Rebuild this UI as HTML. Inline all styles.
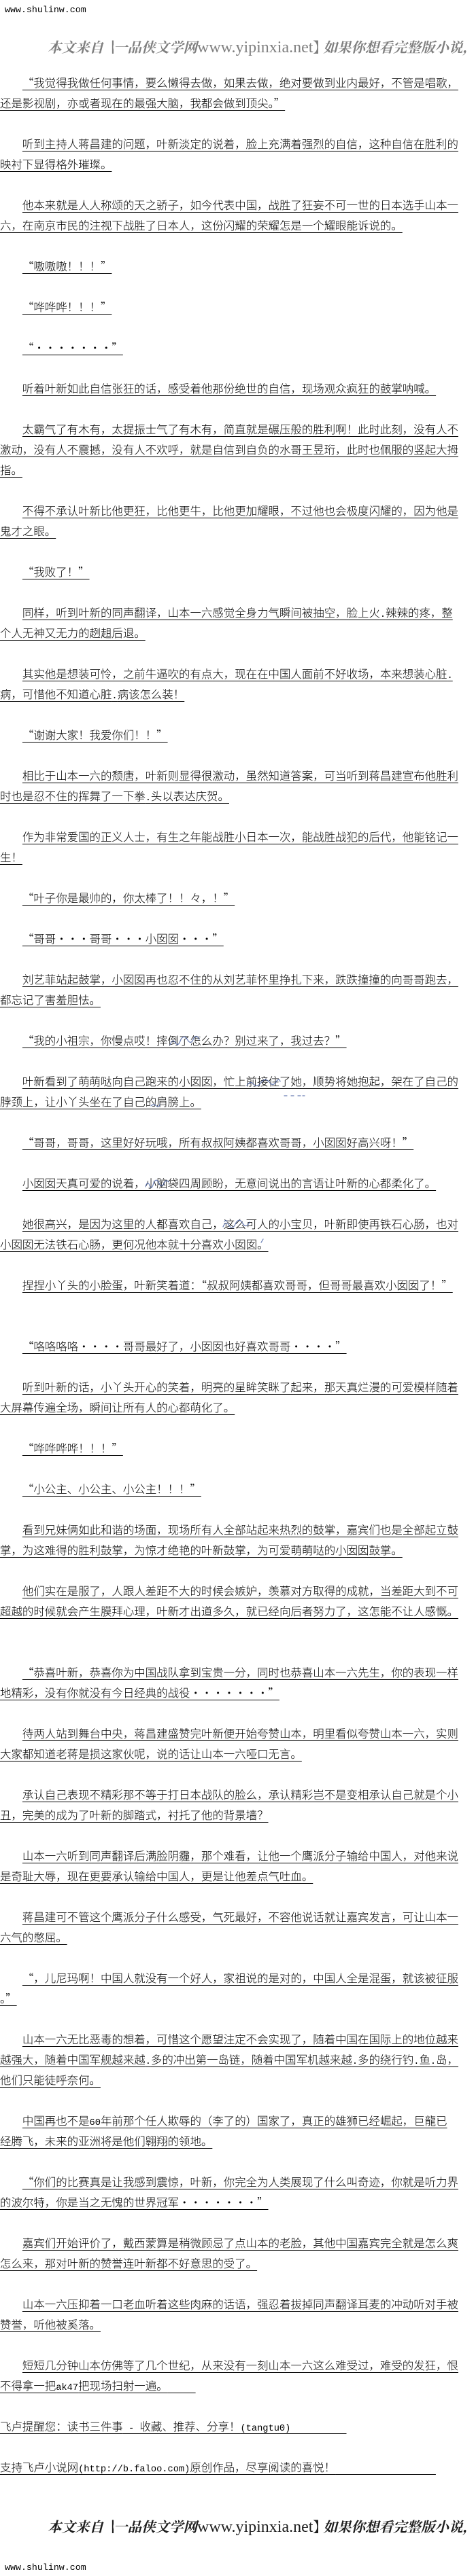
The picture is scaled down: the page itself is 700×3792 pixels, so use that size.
<!DOCTYPE html>
<html lang="zh">
<head>
<meta charset="utf-8">
<style>
html,body{margin:0;padding:0;background:#fff;}
body{width:700px;height:3792px;position:relative;overflow:hidden;}
.l{position:absolute;left:0;height:30px;line-height:30px;font-size:16.45px;white-space:pre;font-family:"Noto Sans CJK SC","WenQuanYi Zen Hei",sans-serif;font-weight:300;color:#000;text-decoration:underline;text-decoration-thickness:1px;text-underline-offset:3.5px;text-decoration-skip-ink:none;}
.i{left:32.9px;}
.m{font-family:"Liberation Mono",monospace;font-size:13.7px;}
.site{position:absolute;left:7px;height:16px;line-height:16px;font-family:"Liberation Mono",monospace;font-size:13.3px;color:#000;white-space:nowrap;}
.wm{position:absolute;left:70px;height:30px;line-height:30px;white-space:nowrap;font-family:"Noto Serif CJK SC","Noto Sans CJK SC",serif;font-weight:700;font-size:20.5px;font-style:italic;}
.wm .s{font-family:"Liberation Serif",serif;font-size:24px;font-style:normal;font-weight:400;}
.wm .b{display:inline-block;width:15px;overflow:hidden;font-style:normal;vertical-align:top;}
.g{color:#7f7f7f;}
.k{color:#1e1e1e;}
svg{position:absolute;left:0;top:0;}
</style>
</head>
<body>
<div class="site" style="top:7px">www.shulinw.com</div>
<div class="wm g" style="top:53px">本文来自<span class="b">【</span>一品侠文学网<span class="s">www.yipinxia.net</span><span class="b">】</span>如果你想看完整版小说，请</div>

<div class="l i" style="top:106px">“我觉得我做任何事情，要么懒得去做，如果去做，绝对要做到业内最好，不管是唱歌，</div>
<div class="l" style="top:136px">还是影视剧，亦或者现在的最强大脑，我都会做到顶尖。”</div>
<div class="l i" style="top:196px">听到主持人蒋昌建的问题，叶新淡定的说着，脸上充满着强烈的自信，这种自信在胜利的</div>
<div class="l" style="top:226px">映衬下显得格外璀璨。</div>
<div class="l i" style="top:286px">他本来就是人人称颂的天之骄子，如今代表中国，战胜了狂妄不可一世的日本选手山本一</div>
<div class="l" style="top:316px">六，在南京市民的注视下战胜了日本人，这份闪耀的荣耀怎是一个耀眼能诉说的。</div>
<div class="l i" style="top:376px">“嗷嗷嗷！！！”</div>
<div class="l i" style="top:436px">“哗哗哗！！！”</div>
<div class="l i" style="top:496px">“・・・・・・・”</div>
<div class="l i" style="top:556px">听着叶新如此自信张狂的话，感受着他那份绝世的自信，现场观众疯狂的鼓掌呐喊。</div>
<div class="l i" style="top:616px">太霸气了有木有，太提振士气了有木有，简直就是碾压般的胜利啊！此时此刻，没有人不</div>
<div class="l" style="top:646px">激动，没有人不震撼，没有人不欢呼，就是自信到自负的水哥王昱珩，此时也佩服的竖起大拇</div>
<div class="l" style="top:676px">指。</div>
<div class="l i" style="top:736px">不得不承认叶新比他更狂，比他更牛，比他更加耀眼，不过他也会极度闪耀的，因为他是</div>
<div class="l" style="top:766px">鬼才之眼。</div>
<div class="l i" style="top:826px">“我败了！”</div>
<div class="l i" style="top:886px">同样，听到叶新的同声翻译，山本一六感觉全身力气瞬间被抽空，脸上火<span class="m">.</span>辣辣的疼，整</div>
<div class="l" style="top:916px">个人无神又无力的趔趄后退。</div>
<div class="l i" style="top:976px">其实他是想装可怜，之前牛逼吹的有点大，现在在中国人面前不好收场，本来想装心脏<span class="m">.</span></div>
<div class="l" style="top:1006px">病，可惜他不知道心脏<span class="m">.</span>病该怎么装！</div>
<div class="l i" style="top:1066px">“谢谢大家！我爱你们！！”</div>
<div class="l i" style="top:1126px">相比于山本一六的颓唐，叶新则显得很激动，虽然知道答案，可当听到蒋昌建宣布他胜利</div>
<div class="l" style="top:1156px">时也是忍不住的挥舞了一下拳<span class="m">.</span>头以表达庆贺。</div>
<div class="l i" style="top:1216px">作为非常爱国的正义人士，有生之年能战胜小日本一次，能战胜战犯的后代，他能铭记一</div>
<div class="l" style="top:1246px">生！</div>
<div class="l i" style="top:1306px">“叶子你是最帅的，你太棒了！！々，！”</div>
<div class="l i" style="top:1366px">“哥哥・・・哥哥・・・小囡囡・・・”</div>
<div class="l i" style="top:1426px">刘艺菲站起鼓掌，小囡囡再也忍不住的从刘艺菲怀里挣扎下来，跌跌撞撞的向哥哥跑去，</div>
<div class="l" style="top:1456px">都忘记了害羞胆怯。</div>
<div class="l i" style="top:1516px">“我的小祖宗，你慢点哎！摔倒了怎么办？别过来了，我过去？”</div>
<div class="l i" style="top:1576px">叶新看到了萌萌哒向自己跑来的小囡囡，忙上前接住了她，顺势将她抱起，架在了自己的</div>
<div class="l" style="top:1606px">脖颈上，让小丫头坐在了自己的肩膀上。</div>
<div class="l i" style="top:1666px">“哥哥，哥哥，这里好好玩哦，所有叔叔阿姨都喜欢哥哥，小囡囡好高兴呀！”</div>
<div class="l i" style="top:1726px">小囡囡天真可爱的说着，小脑袋四周顾盼，无意间说出的言语让叶新的心都柔化了。</div>
<div class="l i" style="top:1786px">她很高兴，是因为这里的人都喜欢自己，这么可人的小宝贝，叶新即使再铁石心肠，也对</div>
<div class="l" style="top:1816px">小囡囡无法铁石心肠，更何况他本就十分喜欢小囡囡。</div>
<div class="l i" style="top:1876px">捏捏小丫头的小脸蛋，叶新笑着道：“叔叔阿姨都喜欢哥哥，但哥哥最喜欢小囡囡了！”</div>
<div class="l i" style="top:1966px">“咯咯咯咯・・・・哥哥最好了，小囡囡也好喜欢哥哥・・・・”</div>
<div class="l i" style="top:2026px">听到叶新的话，小丫头开心的笑着，明亮的星眸笑眯了起来，那天真烂漫的可爱模样随着</div>
<div class="l" style="top:2056px">大屏幕传遍全场，瞬间让所有人的心都萌化了。</div>
<div class="l i" style="top:2116px">“哗哗哗哗！！！”</div>
<div class="l i" style="top:2176px">“小公主、小公主、小公主！！！”</div>
<div class="l i" style="top:2236px">看到兄妹俩如此和谐的场面，现场所有人全部站起来热烈的鼓掌，嘉宾们也是全部起立鼓</div>
<div class="l" style="top:2266px">掌，为这难得的胜利鼓掌，为惊才绝艳的叶新鼓掌，为可爱萌萌哒的小囡囡鼓掌。</div>
<div class="l i" style="top:2326px">他们实在是服了，人跟人差距不大的时候会嫉妒，羡慕对方取得的成就，当差距大到不可</div>
<div class="l" style="top:2356px">超越的时候就会产生膜拜心理，叶新才出道多久，就已经向后者努力了，这怎能不让人感慨。</div>
<div class="l i" style="top:2446px">“恭喜叶新，恭喜你为中国战队拿到宝贵一分，同时也恭喜山本一六先生，你的表现一样</div>
<div class="l" style="top:2476px">地精彩，没有你就没有今日经典的战役・・・・・・・”</div>
<div class="l i" style="top:2536px">待两人站到舞台中央，蒋昌建盛赞完叶新便开始夸赞山本，明里看似夸赞山本一六，实则</div>
<div class="l" style="top:2566px">大家都知道老蒋是损这家伙呢，说的话让山本一六哑口无言。</div>
<div class="l i" style="top:2626px">承认自己表现不精彩那不等于打日本战队的脸么，承认精彩岂不是变相承认自己就是个小</div>
<div class="l" style="top:2656px">丑，完美的成为了叶新的脚踏式，衬托了他的背景墙？</div>
<div class="l i" style="top:2716px">山本一六听到同声翻译后满脸阴霾，那个难看，让他一个鹰派分子输给中国人，对他来说</div>
<div class="l" style="top:2746px">是奇耻大辱，现在更要承认输给中国人，更是让他差点气吐血。</div>
<div class="l i" style="top:2806px">蒋昌建可不管这个鹰派分子什么感受，气死最好，不容他说话就让嘉宾发言，可让山本一</div>
<div class="l" style="top:2836px">六气的憋屈。</div>
<div class="l i" style="top:2896px">“，儿尼玛啊！中国人就没有一个好人，家祖说的是对的，中国人全是混蛋，就该被征服</div>
<div class="l" style="top:2926px">。”</div>
<div class="l i" style="top:2986px">山本一六无比恶毒的想着，可惜这个愿望注定不会实现了，随着中国在国际上的地位越来</div>
<div class="l" style="top:3016px">越强大，随着中国军舰越来越<span class="m">.</span>多的冲出第一岛链，随着中国军机越来越<span class="m">.</span>多的绕行钓<span class="m">.</span>鱼<span class="m">.</span>岛，</div>
<div class="l" style="top:3046px">他们只能徒呼奈何。</div>
<div class="l i" style="top:3106px">中国再也不是<span class="m">60</span>年前那个任人欺辱的（李了的）国家了，真正的雄狮已经崛起，巨龍已</div>
<div class="l" style="top:3136px">经腾飞，未来的亚洲将是他们翱翔的领地。</div>
<div class="l i" style="top:3196px">“你们的比赛真是让我感到震惊，叶新，你完全为人类展现了什么叫奇迹，你就是听力界</div>
<div class="l" style="top:3226px">的波尔特，你是当之无愧的世界冠军・・・・・・・”</div>
<div class="l i" style="top:3286px">嘉宾们开始评价了，戴西蒙算是稍微顾忌了点山本的老脸，其他中国嘉宾完全就是怎么爽</div>
<div class="l" style="top:3316px">怎么来，那对叶新的赞誉连叶新都不好意思的受了。</div>
<div class="l i" style="top:3376px">山本一六压抑着一口老血听着这些肉麻的话语，强忍着拔掉同声翻译耳麦的冲动听对手被</div>
<div class="l" style="top:3406px">赞誉，听他被奚落。</div>
<div class="l i" style="top:3466px">短短几分钟山本仿佛等了几个世纪，从来没有一刻山本一六这么难受过，难受的发狂，恨</div>
<div class="l" style="top:3496px">不得拿一把<span class="m">ak47</span>把现场扫射一遍。<span class="m">     </span></div>
<div class="l" style="top:3556px">飞卢提醒您：读书三件事<span class="m"> - </span>收藏、推荐、分享！<span class="m">(tangtu0)          </span></div>
<div class="l" style="top:3616px">支持飞卢小说网<span class="m">(http://b.faloo.com)</span>原创作品，尽享阅读的喜悦！<span class="m">                  </span></div>

<div class="wm k" style="top:3703px">本文来自<span class="b">【</span>一品侠文学网<span class="s">www.yipinxia.net</span><span class="b">】</span>如果你想看完整版小说，请</div>
<div class="site" style="top:3772px">www.shulinw.com</div>

<svg width="700" height="3792" viewBox="0 0 700 3792">
<g fill="none" stroke="#3a559c" stroke-width="1.2" stroke-linecap="round" opacity="0.75">
<path d="M250 1538 q4 -10 8 -3 q4 7 8 -5 q5 -8 10 1 q5 8 9 -3 q4 -6 8 2"/>
<path d="M363 1598 q5 -8 10 -2 q6 6 12 -4 q6 -6 12 2 q5 6 10 -3 q4 -4 5 1"/>
<path d="M418 1613 h4 M428 1613 h4 M438 1613 h4 M445 1613 h3"/>
<path d="M222 1628 q4 -4 8 0 q3 3 5 -2"/>
<path d="M214 1747 q3 -10 6 -2 q3 8 6 -4 q4 -8 8 1 q4 8 8 -2 q3 -4 6 0"/>
<path d="M328 1806 q4 -10 9 -2 q5 8 10 -4 q5 -8 10 1 q5 8 10 -2"/>
<path d="M330 1798 q2 -3 4 0 M384 1829 q2 -3 3 -5"/>
</g>
</svg>
</body>
</html>
